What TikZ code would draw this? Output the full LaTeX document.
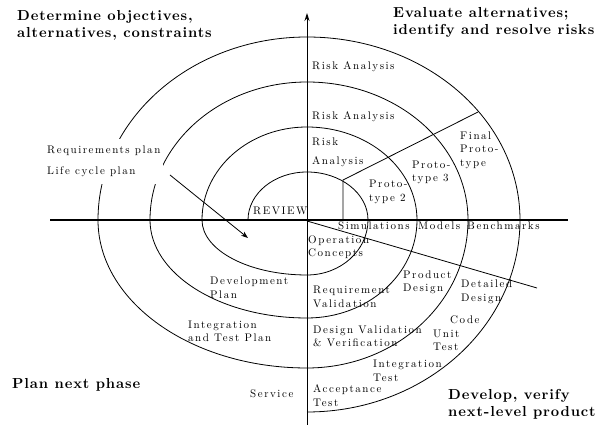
\documentclass[tikz,border=0pt]{standalone}
\usepackage{fontspec}
\usetikzlibrary{arrows.meta}
\newfontfamily\lblfam{lmroman10-regular.otf}[LetterSpace=14]
\newfontfamily\hdfam{lmroman10-bold.otf}[LetterSpace=6]
\newcommand\lblfont{\lblfam\fontsize{11}{13.5}\selectfont}
\newcommand\hdfont{\hdfam\fontsize{14.5}{17}\selectfont}
\begin{document}
\begin{tikzpicture}[x=1pt,y=1pt,
  lbl/.style={font=\lblfont, inner sep=0pt, anchor=west, align=left},
  hd/.style={font=\hdfont, inner sep=0pt, anchor=west, align=left},
  spiralline/.style={line width=0.8pt},
  axisline/.style={line width=2.4pt},
  radline/.style={line width=0.8pt},
]
\useasboundingbox (0,0) rectangle (608,425);
\fill[white] (0,0) rectangle (608,425);

% spiral
\draw[spiralline] (248,205)
  arc[start angle=180,end angle=90,x radius=59,y radius=48]
  arc[start angle=90,end angle=0,x radius=61,y radius=48]
  arc[start angle=0,end angle=-90,x radius=61,y radius=55]
  arc[start angle=-90,end angle=-180,x radius=105,y radius=55]
  arc[start angle=180,end angle=90,x radius=105,y radius=93]
  arc[start angle=90,end angle=0,x radius=110,y radius=93]
  arc[start angle=0,end angle=-90,x radius=110,y radius=98]
  arc[start angle=-90,end angle=-180,x radius=157,y radius=98]
  arc[start angle=180,end angle=90,x radius=157,y radius=138]
  arc[start angle=90,end angle=0,x radius=161,y radius=138]
  arc[start angle=0,end angle=-90,x radius=161,y radius=148]
  arc[start angle=-90,end angle=-180,x radius=209,y radius=148]
  arc[start angle=180,end angle=90,x radius=209,y radius=183]
  arc[start angle=90,end angle=0,x radius=213,y radius=183]
  arc[start angle=0,end angle=-90,x radius=213,y radius=192];

% axes and radial lines
\coordinate (hl) at (50,205);
\coordinate (hr) at (568,205);
\coordinate (vb) at (307,0);
\coordinate (vt) at (307,412);
\coordinate (o) at (307,204);
\coordinate (lr) at (537,137);
\coordinate (ra) at (343,205);
\coordinate (rb) at (343,245);
\coordinate (rc) at (478,313);
\draw[line width=1pt,-{Stealth[length=8pt,width=5pt]}] (vb) -- (vt);
\draw[axisline] (hl) -- (hr);
\draw[radline] (o) -- (lr);
\draw[radline] (ra) -- (rb) -- (rc);

% headings
\node[hd] (h1) at (17,399.5) {Determine objectives,\\alternatives, constraints};
\node[hd] (h2) at (393,403) {Evaluate alternatives;\\identify and resolve risks};
\node[hd] (h3) at (12,40) {Plan next phase};
\node[hd] (h4) at (448,21) {Develop, verify\\next-level product};

% labels
\node[lbl] (ra1) at (312,358) {Risk Analysis};
\node[lbl] (ra2) at (312,308) {Risk Analysis};
\node[lbl] (ra3) at (312,283) {Risk};
\node[lbl] (ra4) at (312,263) {Analysis};
\node[lbl] (rev) at (253,214) {REVIEW};
\node[lbl] (p2) at (369,233) {Proto-\\type 2};
\node[lbl] (p3) at (412,252.5) {Proto-\\type 3};
\node[lbl] (fp) at (460,275) {Final\\Proto-\\type};
\node[lbl] (sim) at (338,199) {Simulations};
\node[lbl] (mod) at (418,199) {Models};
\node[lbl] (ben) at (467,199) {Benchmarks};
\node[lbl] (op) at (308,178) {Operation\\Concepts};
\node[lbl] (pd) at (403,142.5) {Product\\Design};
\node[lbl] (rv) at (313,128) {Requirement\\Validation};
\node[lbl] (dd) at (461,133) {Detailed\\Design};
\node[lbl] (code) at (450,105) {Code};
\node[lbl] (ut) at (433,84.5) {Unit\\Test};
\node[lbl] (dv) at (313,88.5) {Design Validation\\\& Verification};
\node[lbl] (it) at (373,54) {Integration\\Test};
\node[lbl] (at) at (313,29.5) {Acceptance\\Test};
\node[lbl] (svc) at (250,31) {Service};
\node[lbl] (itp) at (188,93.5) {Integration\\and Test Plan};
\node[lbl] (dp) at (210,137.5) {Development\\Plan};
\node[lbl, fill=white, inner xsep=3pt, inner ysep=7pt] (plans) at (44,263.5) {Requirements plan\\[7.5pt]Life cycle plan};

% arrow
\coordinate (as) at (170,250);
\coordinate (ae) at (248,187);
\draw[line width=0.8pt,-{Stealth[length=7pt,width=5pt]}] (as) -- (ae);
\end{tikzpicture}
\end{document}
